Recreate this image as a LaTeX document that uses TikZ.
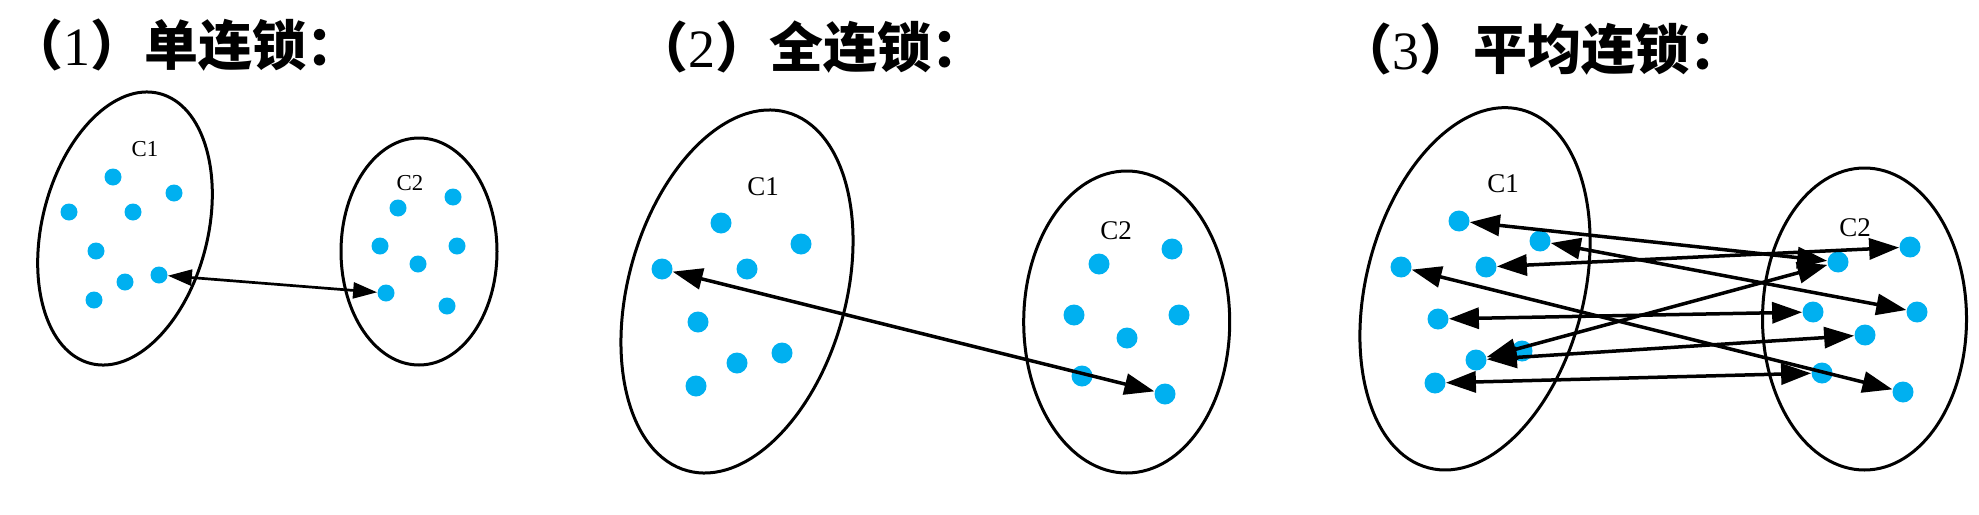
\documentclass[tikz,border=0pt]{standalone}
\usepackage{fontspec}
\setmainfont{Liberation Serif}
\newfontfamily\cjk{Noto Sans CJK SC}
\usepackage{xcolor}
\usetikzlibrary{arrows.meta}
\definecolor{dotblue}{HTML}{00B0F0}

\begin{document}
\begin{tikzpicture}[
          x=0.5pt, y=-0.5pt,
          clus/.style={draw, line width=1.5pt},
          blob/.style={circle, fill=dotblue, inner sep=0pt, minimum size=8.5pt},
          bigblob/.style={blob, minimum size=10.5pt},
          lbl/.style={font=\fontsize{11.4}{13}\selectfont},
          biglbl/.style={font=\fontsize{13.5}{16}\selectfont},
          ttl/.style={anchor=west, inner sep=0pt, font=\cjk\bfseries\fontsize{27}{31}\selectfont},
          link/.style={{Triangle[length=12pt,width=8pt]}-{Triangle[length=12pt,width=8pt]}, line width=1.35pt},
          biglink/.style={{Triangle[length=15pt,width=10.5pt]}-{Triangle[length=15pt,width=10.5pt]}, line width=1.75pt}
      ]
        \useasboundingbox (0,0) rectangle (1979,514);
        % (1) single link
        \node[ttl] (t1) at (9,45) {（{\rmfamily\mdseries 1}）单连锁：};
        \draw[clus, rotate around={-14.3:(125,228.5)}] (125,228.5) ellipse [x radius=82.8, y radius=139.3];
        \draw[clus] (419,251.5) ellipse [x radius=78, y radius=113.5];
        \node[lbl] (sC1) at (145,149) {C1};
        \node[lbl] (sC2) at (410,183) {C2};
        \node[blob] (sA1) at (113,177) {};
        \node[blob] (sA2) at (174,193) {};
        \node[blob] (sA3) at (69,212) {};
        \node[blob] (sA4) at (133,212) {};
        \node[blob] (sA5) at (96,251) {};
        \node[blob] (sA6) at (159,275) {};
        \node[blob] (sA7) at (125,282) {};
        \node[blob] (sA8) at (94,300) {};
        \node[blob] (sB1) at (453,197) {};
        \node[blob] (sB2) at (398,208) {};
        \node[blob] (sB3) at (380,246) {};
        \node[blob] (sB4) at (457,246) {};
        \node[blob] (sB5) at (418,264) {};
        \node[blob] (sB6) at (386,293) {};
        \node[blob] (sB7) at (447,306) {};
        \draw[link] (sA6) -- (sB6);
        % (2) complete link
        \node[ttl] (t2) at (634,47.5) {（{\rmfamily\mdseries 2}）全连锁：};
        \draw[clus, rotate around={-15.6:(737,291.5)}] (737,291.5) ellipse [x radius=108.7, y radius=186];
        \draw[clus] (1126.7,322) ellipse [x radius=103, y radius=151];
        \node[biglbl] (cC1) at (763,187) {C1};
        \node[biglbl] (cC2) at (1116,231) {C2};
        \node[bigblob] (cA1) at (721,223) {};
        \node[bigblob] (cA2) at (801,244) {};
        \node[bigblob] (cA3) at (662,269) {};
        \node[bigblob] (cA4) at (747,269) {};
        \node[bigblob] (cA5) at (698,322) {};
        \node[bigblob] (cA6) at (782,353) {};
        \node[bigblob] (cA7) at (737,363) {};
        \node[bigblob] (cA8) at (696,386) {};
        \node[bigblob] (cB1) at (1172,249) {};
        \node[bigblob] (cB2) at (1099,264) {};
        \node[bigblob] (cB3) at (1074,315) {};
        \node[bigblob] (cB4) at (1179,315) {};
        \node[bigblob] (cB5) at (1127,338) {};
        \node[bigblob] (cB6) at (1082,376) {};
        \node[bigblob] (cB7) at (1165,394) {};
        \draw[biglink] (cA3) -- (cB7);
        % (3) average link
        \node[ttl] (t3) at (1338,49) {（{\rmfamily\mdseries 3}）平均连锁：};
        \draw[clus, rotate around={-14.5:(1475,288.8)}] (1475,288.8) ellipse [x radius=108.8, y radius=185];
        \draw[clus] (1864.5,319) ellipse [x radius=102, y radius=151];
        \node[biglbl] (aC1) at (1503,184) {C1};
        \node[biglbl] (aC2) at (1855,228) {C2};
        \node[bigblob] (aA1) at (1459,221) {};
        \node[bigblob] (aA2) at (1540,241) {};
        \node[bigblob] (aA3) at (1401,267) {};
        \node[bigblob] (aA4) at (1486,267) {};
        \node[bigblob] (aA5) at (1438,319) {};
        \node[bigblob] (aA6) at (1522,351) {};
        \node[bigblob] (aA7) at (1476,360) {};
        \node[bigblob] (aA8) at (1435,383) {};
        \node[bigblob] (aB1) at (1910,247) {};
        \node[bigblob] (aB2) at (1838,262) {};
        \node[bigblob] (aB3) at (1917,312) {};
        \node[bigblob] (aB4) at (1813,312) {};
        \node[bigblob] (aB5) at (1865,335) {};
        \node[bigblob] (aB6) at (1822,373) {};
        \node[bigblob] (aB7) at (1903,392) {};
        \draw[biglink] (aA1) -- (aB2);
        \draw[biglink] (aA2) -- (aB3);
        \draw[biglink] (aA4) -- (aB1);
        \draw[biglink] (aA3) -- (aB7);
        \draw[biglink] (aA5) -- (aB4);
        \draw[biglink] (aA7) -- (aB2);
        \draw[biglink] (aA7) -- (aB5);
        \draw[biglink] (aA8) -- (aB6);
      \end{tikzpicture}
\end{document}
